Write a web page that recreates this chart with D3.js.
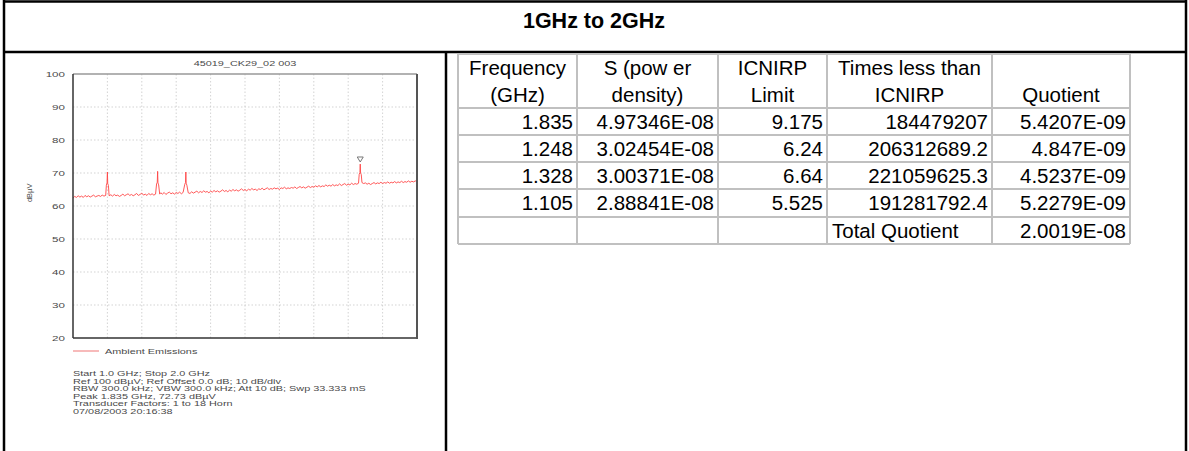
<!DOCTYPE html>
<html>
<head>
<meta charset="utf-8">
<script src="https://d3js.org/d3.v7.min.js"></script>
<style>
  body { margin: 0; background: #fff; }
  svg { display: block; }
  .small { font-family: "Liberation Sans", Arial, sans-serif; font-size: 8px; fill: #4a4a4a; }
  .cell { font-family: "Liberation Sans", Arial, sans-serif; font-size: 20.5px; fill: #000; }
</style>
</head>
<body>
<div id="mainer"></div>
<script>
// ---- data ----
let pageTitle = "1GHz to 2GHz";
let plotTitle = "45019_CK29_02 003";
let yTicks = [20, 30, 40, 50, 60, 70, 80, 90, 100];
let xGrid = [1.1, 1.2, 1.3, 1.4, 1.5, 1.6, 1.7, 1.8, 1.9];
let legendLabel = "Ambient Emissions";
let infoLines = [
  "Start 1.0 GHz; Stop 2.0 GHz",
  "Ref 100 dB\u00b5V; Ref Offset 0.0 dB; 10 dB/div",
  "RBW 300.0 kHz; VBW 300.0 kHz; Att 10 dB; Swp 33.333 mS",
  "Peak 1.835 GHz, 72.73 dB\u00b5V",
  "Transducer Factors: 1 to 18 Horn",
  "07/08/2003 20:16:38"
];
let peak = [1.835, 72.73];

// trace: [GHz, dBuV]
let trace = [
  [1.00,62.4],[1.005,62.9],[1.01,62.6],[1.015,63.1],[1.02,62.7],[1.025,63.0],[1.03,62.6],[1.035,63.2],
  [1.04,62.8],[1.045,63.1],[1.05,62.7],[1.055,63.0],[1.06,63.3],[1.065,62.8],[1.07,63.0],[1.075,63.2],
  [1.08,62.9],[1.085,63.3],[1.09,63.0],[1.095,63.2],[1.097,66.3],[1.099,67.0],[1.100,70.3],[1.101,66.8],
  [1.103,66.2],[1.105,63.1],[1.11,63.4],[1.115,63.0],[1.12,63.5],[1.125,63.1],[1.13,63.3],[1.135,62.9],
  [1.14,63.2],[1.145,63.6],[1.15,63.1],[1.155,63.4],[1.16,63.7],[1.165,63.2],[1.17,63.5],[1.175,63.1],
  [1.18,63.4],[1.185,63.8],[1.19,63.2],[1.195,63.5],[1.20,63.9],[1.205,63.3],[1.21,63.6],[1.215,63.2],
  [1.22,63.8],[1.225,63.4],[1.23,63.7],[1.235,63.3],[1.24,63.6],[1.243,66.7],[1.245,67.2],[1.246,70.5],
  [1.247,67.0],[1.249,66.4],[1.252,63.6],[1.255,64.0],[1.26,63.6],[1.265,64.1],[1.27,63.5],[1.275,63.9],
  [1.28,64.2],[1.285,63.7],[1.29,64.0],[1.295,63.6],[1.30,64.1],[1.305,63.8],[1.31,64.2],[1.315,63.7],
  [1.32,64.1],[1.325,66.6],[1.327,67.1],[1.328,70.3],[1.329,66.9],[1.331,66.3],[1.335,64.0],[1.34,63.8],
  [1.345,64.3],[1.35,63.9],[1.355,64.2],[1.36,64.5],[1.365,64.0],[1.37,64.4],[1.375,64.1],[1.38,64.6],
  [1.385,64.2],[1.39,64.4],[1.395,64.0],[1.40,64.5],[1.405,64.2],[1.41,64.7],[1.415,64.3],[1.42,64.6],
  [1.425,64.2],[1.43,64.5],[1.435,64.9],[1.44,64.4],[1.445,64.7],[1.45,64.3],[1.455,64.8],[1.46,64.5],
  [1.465,65.0],[1.47,64.6],[1.475,64.9],[1.48,64.5],[1.485,64.8],[1.49,65.2],[1.495,64.7],[1.50,65.0],
  [1.505,64.6],[1.51,65.1],[1.515,64.8],[1.52,65.3],[1.525,64.9],[1.53,65.1],[1.535,64.7],[1.54,65.2],
  [1.545,65.0],[1.55,65.4],[1.555,64.9],[1.56,65.2],[1.565,65.5],[1.57,65.0],[1.575,65.3],[1.58,65.1],
  [1.585,65.5],[1.59,65.2],[1.595,65.4],[1.60,65.0],[1.605,65.5],[1.61,65.3],[1.615,65.7],[1.62,65.2],
  [1.625,65.5],[1.63,65.3],[1.635,65.6],[1.64,65.4],[1.645,65.8],[1.65,65.3],[1.655,65.6],[1.66,65.9],
  [1.665,65.5],[1.67,65.8],[1.675,65.4],[1.68,65.7],[1.685,66.0],[1.69,65.6],[1.695,65.9],[1.70,65.7],
  [1.705,66.1],[1.71,65.8],[1.715,66.2],[1.72,65.8],[1.725,66.1],[1.73,65.9],[1.735,66.4],[1.74,66.0],
  [1.745,66.3],[1.75,66.0],[1.755,66.5],[1.76,66.1],[1.765,66.4],[1.77,66.2],[1.775,66.7],[1.78,66.2],
  [1.785,66.5],[1.79,66.8],[1.795,66.3],[1.80,66.6],[1.805,66.4],[1.81,66.9],[1.815,66.5],[1.82,66.8],
  [1.825,66.6],[1.83,66.9],[1.832,69.6],[1.834,70.1],[1.835,72.7],[1.836,70.0],[1.838,69.5],[1.84,67.1],
  [1.845,66.8],[1.85,67.0],[1.855,66.6],[1.86,66.9],[1.865,66.5],[1.87,66.8],[1.875,67.1],[1.88,66.7],
  [1.885,67.0],[1.89,66.8],[1.895,67.2],[1.90,66.8],[1.905,67.1],[1.91,66.9],[1.915,67.3],[1.92,66.9],
  [1.925,67.2],[1.93,67.0],[1.935,67.4],[1.94,67.0],[1.945,67.3],[1.95,67.1],[1.955,67.5],[1.96,67.1],
  [1.965,67.4],[1.97,67.2],[1.975,67.6],[1.98,67.2],[1.985,67.5],[1.99,67.3],[1.995,67.6],[2.00,67.4]
];

// table
let headers = [["Frequency", "(GHz)"], ["S (pow er", "density)"], ["ICNIRP", "Limit"], ["Times less than", "ICNIRP"], ["", "Quotient"]];
let freqs = ["1.835", "1.248", "1.328", "1.105"];
let powerDensity = ["4.97346E-08", "3.02454E-08", "3.00371E-08", "2.88841E-08"];
let icnirpLimit = ["9.175", "6.24", "6.64", "5.525"];
let timesLess = ["184479207", "206312689.2", "221059625.3", "191281792.4"];
let quotient = ["5.4207E-09", "4.847E-09", "4.5237E-09", "5.2279E-09"];
let totalLabel = "Total Quotient";
let totalQuotient = "2.0019E-08";

// ---- layout ----
let width = 1189, height = 451;
let stretch = 1.45; // the analyser screenshot is squeezed wide
let svg = d3.select("#mainer").append("svg")
  .attr("width", width).attr("height", height);

// outer frame
let frame = svg.append("g").attr("stroke", "#000").attr("stroke-width", 2.5);
frame.append("line").attr("x1", 4).attr("x2", 1186).attr("y1", 1.5).attr("y2", 1.5);
frame.append("line").attr("x1", 4).attr("x2", 1186).attr("y1", 52).attr("y2", 52);
frame.append("line").attr("x1", 4).attr("x2", 4).attr("y1", 0).attr("y2", height);
frame.append("line").attr("x1", 1186).attr("x2", 1186).attr("y1", 0).attr("y2", height);
frame.append("line").attr("x1", 446).attr("x2", 446).attr("y1", 52).attr("y2", height);

svg.append("text")
  .attr("x", 594).attr("y", 28)
  .attr("text-anchor", "middle")
  .style("font-family", "Liberation Sans, Arial, sans-serif")
  .style("font-weight", "bold").style("font-size", "21.5px")
  .text(pageTitle);

// ---- spectrum plot ----
let xScale = d3.scaleLinear().domain([1, 2]).range([73, 417]);
let yScale = d3.scaleLinear().domain([20, 100]).range([338, 74]);

let plot = svg.append("g");

function smallText(x, y, txt, size, anchor) {
  return plot.append("text").attr("class", "small")
    .attr("transform", `translate(${x},${y}) scale(${stretch},1)`)
    .attr("text-anchor", anchor || "start")
    .style("font-size", size + "px")
    .text(txt);
}

plot.selectAll(".vg").data(xGrid).enter().append("line")
  .attr("x1", d => xScale(d)).attr("x2", d => xScale(d))
  .attr("y1", yScale(100)).attr("y2", yScale(20))
  .attr("stroke", "#c8c8c8").attr("stroke-width", 0.8).attr("stroke-dasharray", "1.5,2");
plot.selectAll(".hg").data(yTicks.slice(1, -1)).enter().append("line")
  .attr("x1", xScale(1)).attr("x2", xScale(2))
  .attr("y1", d => yScale(d)).attr("y2", d => yScale(d))
  .attr("stroke", "#c8c8c8").attr("stroke-width", 0.8).attr("stroke-dasharray", "1.5,2");

let yAxis = d3.axisLeft(yScale).tickValues(yTicks).tickSize(0).tickPadding(8);
let ya = plot.append("g").attr("transform", `translate(${xScale(1)},0)`).call(yAxis);
ya.select(".domain").remove();
ya.selectAll("text").attr("class", "small").attr("fill", null)
  .attr("x", -8 / stretch)
  .attr("transform", `scale(${stretch},1)`);

plot.append("text").attr("class", "small")
  .attr("transform", `translate(32,${yScale(64)}) rotate(-90)`)
  .attr("text-anchor", "middle")
  .style("font-size", "7.5px")
  .text("dB\u00b5V");

smallText((xScale(1) + xScale(2)) / 2, 66, plotTitle, 7.5, "middle");

let lineGenerator = d3.line()
  .x(d => xScale(d[0]))
  .y(d => yScale(d[1]));
plot.append("path")
  .attr("d", lineGenerator(trace))
  .attr("fill", "none")
  .attr("stroke", "#ff4545")
  .attr("stroke-width", 0.9);

// peak marker
let px = xScale(peak[0]), py = yScale(peak[1]) - 2;
plot.append("path")
  .attr("d", `M${px - 3},${py - 5}L${px + 3},${py - 5}L${px},${py}Z`)
  .attr("fill", "#fff").attr("stroke", "#777").attr("stroke-width", 1);

// frame
plot.append("line").attr("x1", xScale(1)).attr("x2", xScale(2)).attr("y1", yScale(100)).attr("y2", yScale(100))
  .attr("stroke", "#999").attr("stroke-width", 1.5);
plot.append("line").attr("x1", xScale(1)).attr("x2", xScale(1)).attr("y1", yScale(100)).attr("y2", yScale(20))
  .attr("stroke", "#333").attr("stroke-width", 1.5);
plot.append("line").attr("x1", xScale(1)).attr("x2", xScale(2)).attr("y1", yScale(20)).attr("y2", yScale(20))
  .attr("stroke", "#333").attr("stroke-width", 1.5);
plot.append("line").attr("x1", xScale(2)).attr("x2", xScale(2)).attr("y1", yScale(100)).attr("y2", yScale(20) + 1)
  .attr("stroke", "#555").attr("stroke-width", 2);

// legend
plot.append("line").attr("x1", 73).attr("x2", 99).attr("y1", 351).attr("y2", 351)
  .attr("stroke", "#f4a3a3").attr("stroke-width", 1.5);
smallText(105, 354, legendLabel, 7.5);

infoLines.forEach((d, i) => smallText(73, 376 + i * 7.5, d, 7.5));

// ---- table ----
let colX = [458, 577, 718, 827, 992, 1130];
let rowY = [54, 108, 135, 162, 189, 217, 244];
let tbl = svg.append("g");

let rows = freqs.map((f, i) => [f, powerDensity[i], icnirpLimit[i], timesLess[i], quotient[i]]);
rows.push(["", "", "", totalLabel, totalQuotient]);

// grid
tbl.selectAll(".rl").data(rowY).enter().append("line")
  .attr("x1", colX[0]).attr("x2", colX[colX.length - 1])
  .attr("y1", d => d).attr("y2", d => d)
  .attr("stroke", "#c0c0c0").attr("stroke-width", 2);
tbl.selectAll(".cl").data(colX).enter().append("line")
  .attr("x1", d => d).attr("x2", d => d)
  .attr("y1", rowY[0]).attr("y2", rowY[rowY.length - 1])
  .attr("stroke", "#c0c0c0").attr("stroke-width", 2);

headers.forEach((h, c) => {
  let cx = (colX[c] + colX[c + 1]) / 2;
  h.forEach((line, k) => {
    tbl.append("text").attr("class", "cell")
      .attr("x", cx).attr("y", rowY[0] + 21 + k * 27)
      .attr("text-anchor", "middle")
      .text(line);
  });
});

rows.forEach((r, i) => {
  r.forEach((v, c) => {
    let leftAligned = (v === totalLabel);
    tbl.append("text").attr("class", "cell")
      .attr("x", leftAligned ? colX[c] + 5 : colX[c + 1] - 4)
      .attr("y", rowY[i + 1] + 21)
      .attr("text-anchor", leftAligned ? "start" : "end")
      .text(v);
  });
});
</script>
</body>
</html>
